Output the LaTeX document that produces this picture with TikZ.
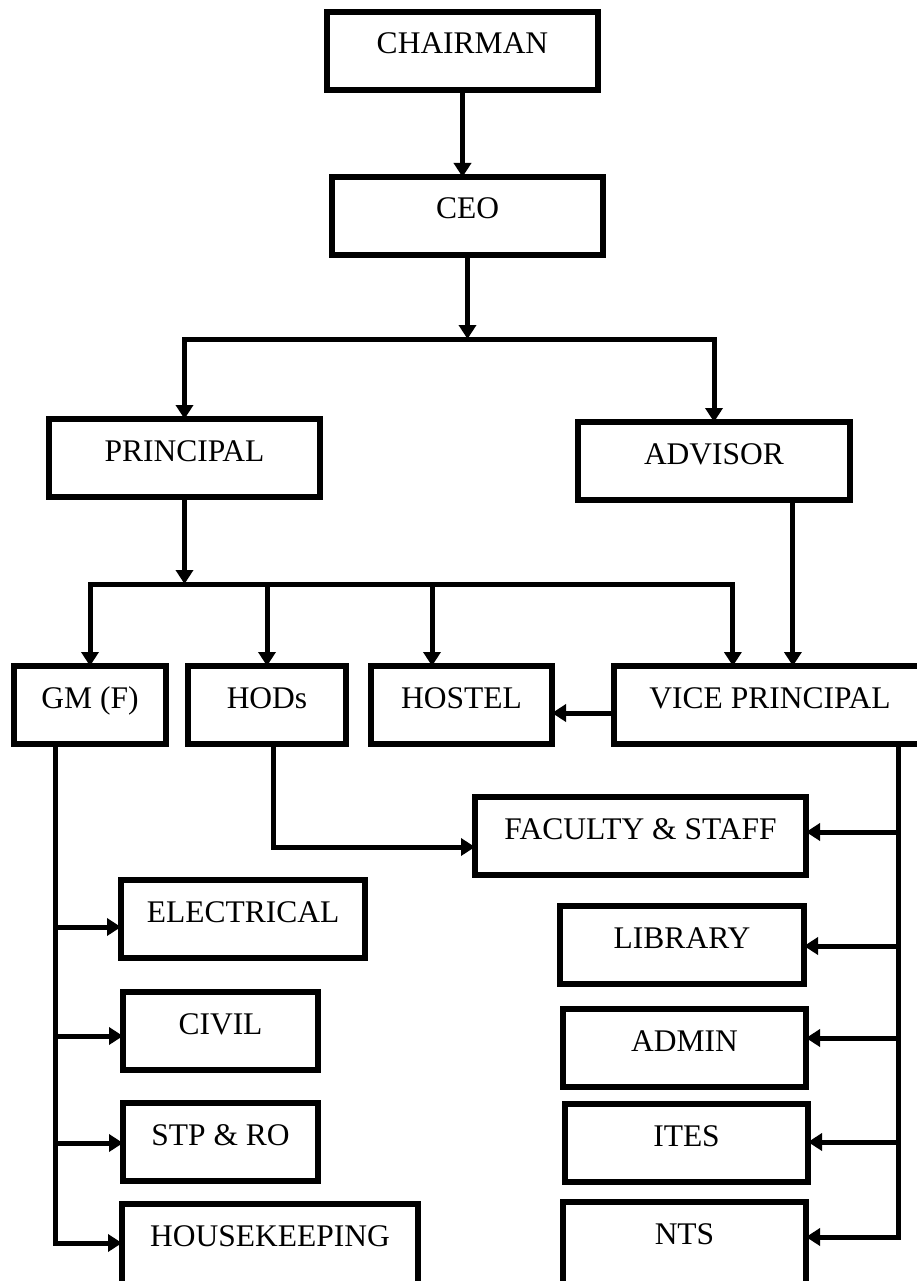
\documentclass[tikz,border=0pt]{standalone}
\usepackage{fontspec}
\setmainfont{Liberation Serif}
\usetikzlibrary{arrows.meta,calc}

\begin{document}
\begin{tikzpicture}[x=1pt,y=-1pt,
    box/.style={draw,line width=6pt,rectangle,inner sep=0pt,outer sep=0pt,anchor=north west,
      text height=42pt,text depth=36pt,font=\fontsize{31.5}{36}\selectfont},
    line/.style={line width=5pt,line join=miter},
    arr/.style={line,-{Triangle[length=14pt,width=17pt]}},
    tarr/.style={line,{Triangle[length=14pt,width=17pt]}-{Triangle[length=14pt,width=17pt]}}]
    \useasboundingbox (0,0) rectangle (916,1281);
    % boxes
    \node[box,minimum width=271pt] (chair) at (327,12) {CHAIRMAN};
    \node[box,minimum width=271pt] (ceo) at (332,177) {CEO};
    \node[box,minimum width=271pt] (principal) at (49,419) {PRINCIPAL};
    \node[box,minimum width=272pt] (advisor) at (578,422) {ADVISOR};
    \node[box,minimum width=152pt] (gm) at (14,666) {GM (F)};
    \node[box,minimum width=158pt] (hods) at (188,666) {HODs};
    \node[box,minimum width=181pt] (hostel) at (371,666) {HOSTEL};
    \node[box,minimum width=312pt] (vp) at (614,666) {VICE PRINCIPAL};
    \node[box,minimum width=331pt] (faculty) at (475,797) {FACULTY \& STAFF};
    \node[box,minimum width=244pt] (library) at (560,906) {LIBRARY};
    \node[box,minimum width=243pt] (admin) at (563,1009) {ADMIN};
    \node[box,minimum width=243pt] (ites) at (565,1104) {ITES};
    \node[box,minimum width=243pt,text depth=48pt] (nts) at (563,1202) {NTS};
    \node[box,minimum width=244pt] (electrical) at (121,880) {ELECTRICAL};
    \node[box,minimum width=195pt] (civil) at (123,992) {CIVIL};
    \node[box,minimum width=195pt] (stp) at (123,1103) {STP \& RO};
    \node[box,minimum width=296pt,text depth=48pt] (house) at (122,1204) {HOUSEKEEPING};
    % top levels
    \coordinate (bus1) at (465,339);
    \coordinate (bus2) at (183,584);
    \draw[arr] (chair.south) -- (chair.south |- ceo.north);
    \draw[arr] (ceo.south) -- (ceo.south |- bus1);
    \draw[tarr] (principal.north) -- (principal.north |- bus1) -| (advisor.north);
    \draw[arr] (principal.south) -- (principal.south |- bus2);
    % second row
    \coordinate (hostin) at ($(hostel.north west)!0.337!(hostel.north east)$);
    \coordinate (vpin1) at ($(vp.north west)!0.381!(vp.north east)$);
    \coordinate (vpin2) at ($(vp.north west)!0.574!(vp.north east)$);
    \coordinate (advout) at ($(advisor.south west)!0.79!(advisor.south east)$);
    \draw[tarr] (gm.north) -- (gm.north |- bus2) -| (vpin1);
    \draw[arr] (hods.north |- bus2) -- (hods.north);
    \draw[arr] (hostin |- bus2) -- (hostin);
    \draw[arr] (advout) -- (advout |- vpin2);
    \draw[arr] ([yshift=-8pt]vp.west) -- ([yshift=-8pt]vp.west -| hostel.east);
    % HODs to faculty
    \coordinate (hodout) at ($(hods.south west)!0.54!(hods.south east)$);
    \draw[arr] (hodout) |- ([yshift=-11pt]faculty.west);
    % GM (F) branch
    \coordinate (gmout) at ($(gm.south west)!0.27!(gm.south east)$);
    \draw[arr] (gmout) |- ([yshift=6pt]house.west);
    \draw[arr] ([yshift=-8pt]electrical.west -| gmout) -- ([yshift=-8pt]electrical.west);
    \draw[arr] ([yshift=-5pt]civil.west -| gmout) -- ([yshift=-5pt]civil.west);
    \draw[arr] ([yshift=-1pt]stp.west -| gmout) -- ([yshift=-1pt]stp.west);
    % vice principal branch
    \coordinate (vpout) at ($(vp.south west)!0.913!(vp.south east)$);
    \draw[arr] (vpout) |- ([yshift=10pt]nts.east);
    \draw[arr] ([yshift=4pt]faculty.east -| vpout) -- ([yshift=4pt]faculty.east);
    \draw[arr] ([yshift=-1pt]library.east -| vpout) -- ([yshift=-1pt]library.east);
    \draw[arr] ([yshift=10pt]admin.east -| vpout) -- ([yshift=10pt]admin.east);
    \draw[arr] ([yshift=1pt]ites.east -| vpout) -- ([yshift=1pt]ites.east);
\end{tikzpicture}
\end{document}
